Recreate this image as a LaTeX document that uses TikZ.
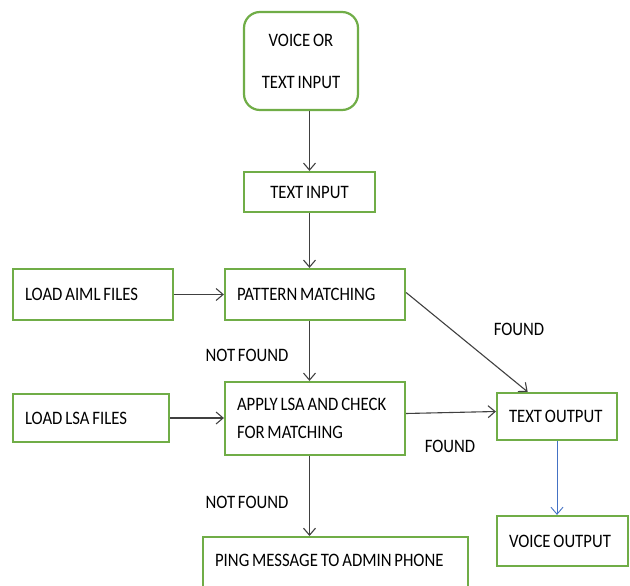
\documentclass[tikz,border=0pt]{standalone}
\usepackage{fontspec}
\setmainfont[FakeStretch=0.88,WordSpace=0.75]{Carlito}
\usetikzlibrary{arrows.meta,calc}
\definecolor{grn}{RGB}{112,173,71}
\definecolor{lnc}{RGB}{64,64,64}
\definecolor{blu}{RGB}{68,114,196}
\tikzset{
  bx/.style={draw=grn, line width=2.2pt, fill=white, inner xsep=12pt, inner ysep=0pt, align=flush left, font=\fontsize{19}{28}\selectfont},
  arr/.style={draw=lnc, line width=1.1pt, -{Straight Barb[length=7pt,width=12pt,line width=1.1pt]}},
  lbl/.style={font=\fontsize{19}{20}\selectfont, inner sep=0pt}
}
\begin{document}
\begin{tikzpicture}[x=1pt,y=-1pt]
\useasboundingbox (0,0) rectangle (630,586);
\node[bx, rounded corners=16pt, align=flush center, text width=90pt, minimum height=98pt] (vi) at (301,61) {\mbox{VOICE OR}\\[14pt]\mbox{TEXT INPUT}};
\node[bx, align=flush center, text width=107pt, minimum height=40pt] (ti) at (309.5,192) {\mbox{TEXT INPUT}};
\node[bx, text width=136pt, minimum height=51pt] (ai) at (93,294.5) {\mbox{LOAD AIML FILES}};
\node[bx, text width=156pt, minimum height=51pt] (pm) at (315,294.5) {\mbox{PATTERN MATCHING}};
\node[bx, text width=132pt, minimum height=48pt] (ls) at (91,418) {\mbox{LOAD LSA FILES}};
\node[bx, text width=156pt, minimum height=73pt] (ap) at (315,418.5) {\mbox{APPLY LSA AND CHECK}\\\mbox{FOR MATCHING}};
\node[bx, text width=96pt, minimum height=47pt] (to) at (557,416.5) {\mbox{TEXT OUTPUT}};
\node[bx, text width=107pt, minimum height=50pt] (vo) at (562.5,541) {\mbox{VOICE OUTPUT}};
\node[bx, anchor=north west, text width=241pt, inner ysep=4pt, text height=25pt, text depth=35pt] (pg) at (202,536) {\mbox{PING MESSAGE TO ADMIN PHONE}};

\node[lbl] (l1) at (519,329) {FOUND};
\node[lbl] (l2) at (247,355) {NOT FOUND};
\node[lbl] (l3) at (450,446) {FOUND};
\node[lbl] (l4) at (247,502) {NOT FOUND};

\draw[arr] (vi.south -| ti.north) -- (ti.north);
\draw[arr] (ti.south) -- (pm.north -| ti.south);
\draw[arr] (ai.east) -- (pm.west);
\draw[arr] (pm.south -| ti.south) -- (ap.north -| ti.south);
\draw[arr] (ls.east) -- (ls.east -| ap.west);
\draw[arr] ($(pm.east)+(0,-2)$) -- ($(to.north west)!0.26!(to.north east)$);
\draw[arr] ($(ap.east)+(0,-5)$) -- ($(to.west)+(0,-5)$);
\draw[arr] (ap.south -| ti.south) -- (pg.north -| ti.south);
\draw[arr, draw=blu, line width=0.9pt, -{Straight Barb[length=7pt,width=12pt,line width=0.9pt]}] (to.south) -- (vo.north -| to.south);
\end{tikzpicture}
\end{document}
